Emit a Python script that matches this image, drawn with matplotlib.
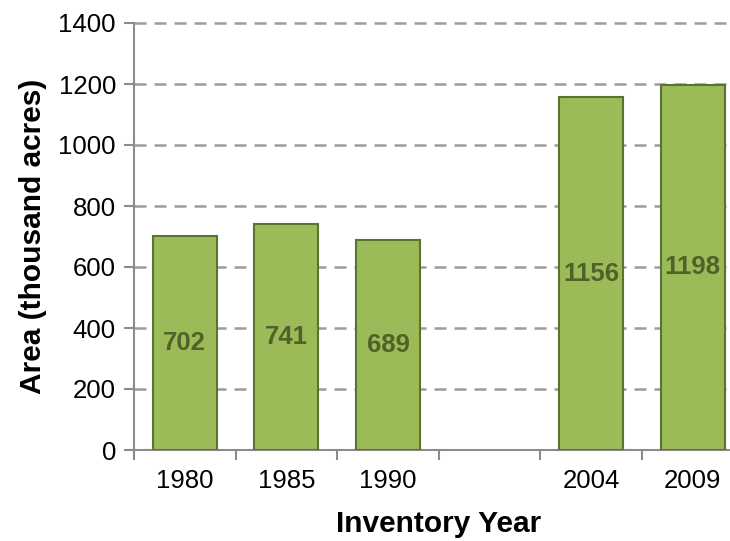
import matplotlib
matplotlib.use("Agg")
import matplotlib.pyplot as plt
import numpy as np

# one empty slot between 1990 and 2004, as in the original chart
years = ["1980", "1985", "1990", "", "2004", "2009"]
area = [702, 741, 689, np.nan, 1156, 1198]
y_ticks = [0, 200, 400, 600, 800, 1000, 1200, 1400]

BAR = "#9BBB59"
EDGE = "#5A7430"
LABEL = "#4F6228"
AXIS = "#8C8C8C"
GRID = "#9C9C9C"

plt.rcParams["font.family"] = ["Liberation Sans", "DejaVu Sans"]

fig = plt.figure(figsize=(7.3, 5.41), dpi=100)
ax = fig.add_axes([134 / 730, 91 / 541, 609.6 / 730, 427 / 541])

x = np.arange(len(years))
bars = ax.bar(x, area, width=0.63, color=BAR, edgecolor=EDGE, linewidth=1.5, zorder=3)

for xi, v in zip(x, area):
    if np.isnan(v):
        continue
    ax.text(xi, v / 2, f"{int(v)}", ha="center", va="center",
            fontsize=18.5, fontweight="bold", color=LABEL, zorder=4)

ax.set_xlim(-0.5, len(years) - 0.5)
ax.set_ylim(0, 1400)
ax.set_yticks(y_ticks)
ax.set_yticklabels([str(t) for t in y_ticks], fontsize=18.5)
ax.set_xticks(x)
ax.set_xticklabels(years, fontsize=18.5)
ax.set_xticks(np.arange(-0.5, len(years)), minor=True)

ax.tick_params(axis="x", which="major", length=0, pad=14)
ax.tick_params(axis="x", which="minor", length=7, width=1.5, color=AXIS, direction="out")
ax.tick_params(axis="y", length=7, width=1.5, color=AXIS, direction="out", pad=6)

for t in y_ticks[1:]:
    ax.axhline(t, color=GRID, linewidth=1.8, dashes=(4.8, 3.2), zorder=1, clip_on=False)

for side in ["top", "right"]:
    ax.spines[side].set_visible(False)
for side in ["left", "bottom"]:
    ax.spines[side].set_color(AXIS)
    ax.spines[side].set_linewidth(1.5)

ax.set_xlabel("Inventory Year", fontsize=21.5, fontweight="bold", labelpad=12)
ax.set_ylabel("Area (thousand acres)", fontsize=21.5, fontweight="bold", labelpad=8)

fig.savefig("out.png", dpi=100)
